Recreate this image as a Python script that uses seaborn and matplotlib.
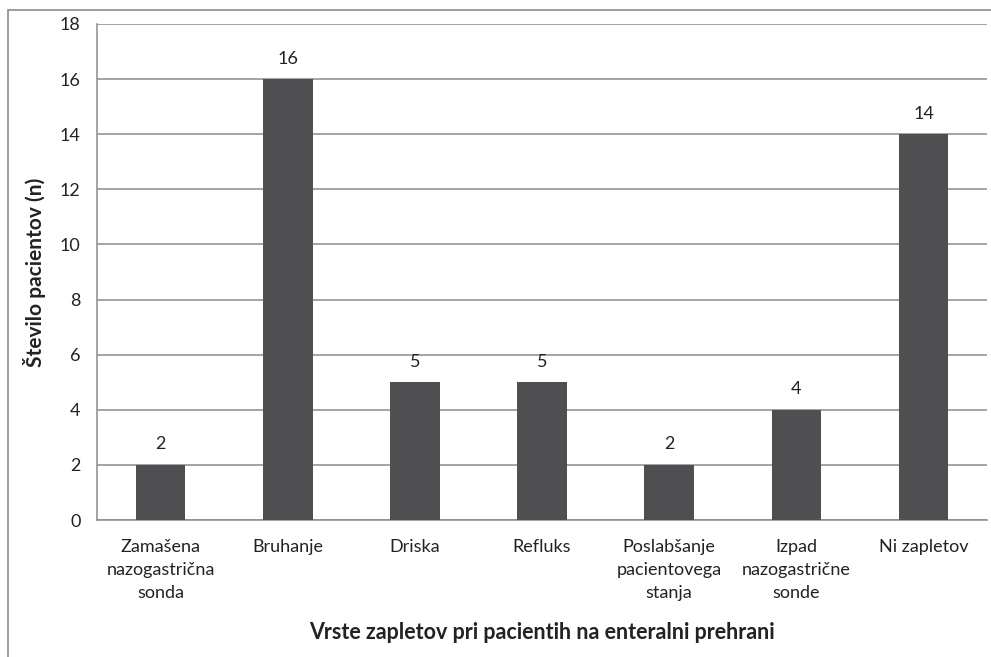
import matplotlib
matplotlib.use("Agg")
import matplotlib.pyplot as plt
import seaborn as sns
import pandas as pd
from matplotlib.patches import Rectangle

# Data
categories = [
    "Zamašena\nnazogastrična\nsonda",
    "Bruhanje",
    "Driska",
    "Refluks",
    "Poslabšanje\npacientovega\nstanja",
    "Izpad\nnazogastrične\nsonde",
    "Ni zapletov",
]
counts = [2, 16, 5, 5, 2, 4, 14]
y_ticks = [0, 2, 4, 6, 8, 10, 12, 14, 16, 18]

df = pd.DataFrame({"kategorija": categories, "n": counts})

sns.set_style("white")
plt.rcParams["font.family"] = ["Lato", "DejaVu Sans"]

fig = plt.figure(figsize=(9.91, 6.57), dpi=100)
ax = fig.add_axes([0.098, 0.2085, 0.898, 0.755])

sns.barplot(data=df, x="kategorija", y="n", color="#4f4f51", width=0.39,
            saturation=1, linewidth=0, ax=ax, zorder=3)

ax.set_ylim(0, 18)
ax.set_yticks(y_ticks)
ax.set_xlim(-0.5, len(categories) - 0.5)
ax.yaxis.grid(True, color="#8c8c8c", linewidth=1.1, zorder=0)
ax.set_axisbelow(True)

for s in ["top", "right"]:
    ax.spines[s].set_visible(False)
for s in ["left", "bottom"]:
    ax.spines[s].set_color("#8c8c8c")
    ax.spines[s].set_linewidth(1.1)

ax.tick_params(axis="both", length=0, labelsize=13, colors="#222222")
ax.tick_params(axis="x", pad=14)
ax.tick_params(axis="y", pad=12)
for lbl in ax.get_xticklabels():
    lbl.set_linespacing(1.52)

for i, v in enumerate(counts):
    ax.text(i, v + 0.45, str(v), ha="center", va="bottom", fontsize=13, color="#222222")

ax.set_xlabel("Vrste zapletov pri pacientih na enteralni prehrani",
              fontsize=15.5, fontweight="bold", color="#222222", labelpad=15)
ax.set_ylabel("Število pacientov (n)", fontsize=15, fontweight="bold",
              color="#222222", labelpad=10)

# outer frame of the picture
fig.patches.append(Rectangle((8 / 991, -0.1), 1.2, 1 - 10 / 657 + 0.1,
                             transform=fig.transFigure, fill=False,
                             edgecolor="#8c8c8c", linewidth=1.2))

fig.savefig("out.png", dpi=100)
